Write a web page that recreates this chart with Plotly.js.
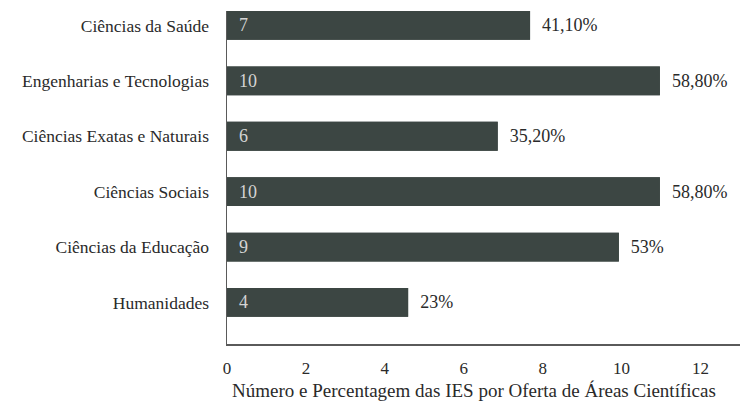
<!DOCTYPE html>
<html>
<head>
<meta charset="utf-8">
<script src="https://cdn.plot.ly/plotly-3.0.1.min.js"></script>
<style>html,body{margin:0;padding:0;background:#fff;}#chart{width:740px;height:402px;}</style>
</head>
<body>
<div id="chart"></div>
<script>
var categories = ["Ciências da Saúde", "Engenharias e Tecnologias", "Ciências Exatas e Naturais", "Ciências Sociais", "Ciências da Educação", "Humanidades"];
var barLengths = [7.68, 10.97, 6.86, 10.97, 9.93, 4.59];
var counts = ["7", "10", "6", "10", "9", "4"];
var percentLabels = ["41,10%", "58,80%", "35,20%", "58,80%", "53%", "23%"];
var xTicks = [0, 2, 4, 6, 8, 10, 12];
var xTitle = "Número e Percentagem das IES por Oferta de Áreas Científicas";

var serif = "'Liberation Serif', 'Times New Roman', serif";
var barColor = "#3c4643";

var pctTrace = {
  type: "bar", orientation: "h",
  x: barLengths, y: categories,
  width: 0.52,
  marker: {color: barColor},
  text: percentLabels,
  texttemplate: "\u00a0\u00a0%{text}",
  textposition: "outside",
  outsidetextfont: {family: serif, size: 18, color: "#2a2a2a"},
  hoverinfo: "none", showlegend: false, cliponaxis: false
};
var countTrace = {
  type: "bar", orientation: "h",
  x: barLengths, y: categories,
  width: 0.52,
  marker: {color: barColor},
  text: counts,
  texttemplate: "\u00a0\u00a0%{text}",
  textposition: "inside", insidetextanchor: "start",
  insidetextfont: {family: serif, size: 18, color: "#d4d4d4"},
  hoverinfo: "none", showlegend: false, cliponaxis: false
};

var layout = {
  width: 740, height: 402,
  margin: {l: 227, r: 0, t: 11, b: 58},
  paper_bgcolor: "#fff", plot_bgcolor: "#fff",
  barmode: "overlay",
  font: {family: serif, color: "#2a2a2a"},
  xaxis: {
    range: [0, 13], tickvals: xTicks, ticktext: xTicks.map(String),
    showgrid: false, zeroline: false, showline: true,
    linecolor: "#5a5a5a", linewidth: 1.5, ticks: "",
    ticklabelstandoff: 8,
    tickfont: {family: serif, size: 17, color: "#2a2a2a"}
  },
  yaxis: {
    type: "category", categoryorder: "array", categoryarray: categories,
    range: [5.75, -0.26],
    showgrid: false, zeroline: false, showline: true,
    linecolor: "#5a5a5a", linewidth: 1.5, ticks: "",
    ticklabelstandoff: 13,
    tickfont: {family: serif, size: 17.5, color: "#2a2a2a"}
  },
  annotations: [{
    text: xTitle, xref: "paper", yref: "paper",
    x: 0.481, y: 0, yshift: -46, xanchor: "center", yanchor: "middle",
    showarrow: false, font: {family: serif, size: 19, color: "#2a2a2a"}
  }]
};

Plotly.newPlot("chart", [pctTrace, countTrace], layout, {staticPlot: true, displayModeBar: false});
</script>
</body>
</html>
